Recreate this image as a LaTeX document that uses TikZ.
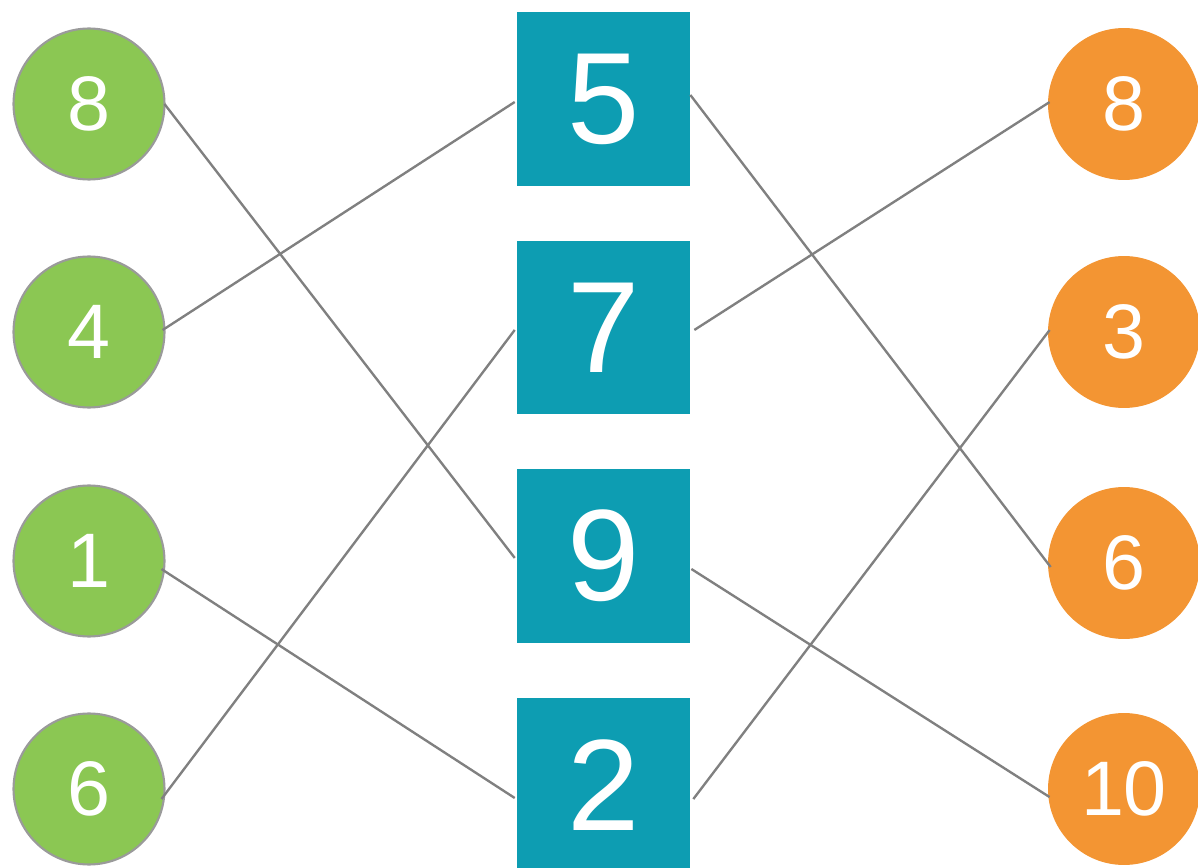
\documentclass[tikz,border=0pt]{standalone}
\usepackage{fontspec}
\setmainfont{Liberation Sans}
\definecolor{leafgreen}{HTML}{8BC753}
\definecolor{tealbox}{HTML}{0D9DB2}
\definecolor{orangeball}{HTML}{F39533}
\definecolor{wiregray}{HTML}{808080}
\definecolor{rimgray}{HTML}{9A9A9A}
\tikzset{
  leftnum/.style={circle, fill=leafgreen, draw=rimgray, line width=1.2pt, minimum size=3.02cm, inner sep=0pt, text=white, font=\fontsize{44}{44}\selectfont},
  rightnum/.style={circle, fill=orangeball, minimum size=3.04cm, inner sep=0pt, text=white, font=\fontsize{44}{44}\selectfont},
  midnum/.style={rectangle, fill=tealbox, minimum width=3.46cm, minimum height=3.48cm, inner sep=0pt, text=white, font=\fontsize{74}{74}\selectfont},
  wire/.style={draw=wiregray, line width=1.35pt}
}
\begin{document}
\begin{tikzpicture}[x=0.02cm, y=-0.02cm]
\useasboundingbox (0,0) rectangle (1198,868);
\clip (0,0) rectangle (1198,868);
% left column
\node[leftnum] (l1) at (89,104) {8};
\node[leftnum] (l2) at (89,332) {4};
\node[leftnum] (l3) at (89,561) {1};
\node[leftnum] (l4) at (89,789) {6};
% middle column
\node[midnum] (m1) at (603.5,99) {5};
\node[midnum] (m2) at (603.5,327.5) {7};
\node[midnum] (m3) at (603.5,556) {9};
\node[midnum] (m4) at (603.5,785) {2};
% right column
\node[rightnum] (r1) at (1124,104) {8};
\node[rightnum] (r2) at (1124,332) {3};
\node[rightnum] (r3) at (1124,563) {6};
\node[rightnum] (r4) at (1124,789) {10};
% links
\draw[wire] ([xshift=-0.6pt]l1.east) -- ([xshift=-1.1pt,yshift=-1.1pt]m3.west);
\draw[wire] ([xshift=-1.7pt,yshift=1.1pt]l2.east) -- ([xshift=-1.1pt,yshift=-1.7pt]m1.west);
\draw[wire] ([xshift=-2.3pt,yshift=-4.6pt]l3.east) -- ([xshift=-1.1pt,yshift=-7.4pt]m4.west);
\draw[wire] ([xshift=-2.3pt,yshift=-5.7pt]l4.east) -- ([xshift=-1.1pt,yshift=-1.4pt]m2.west);
\draw[wire] ([yshift=2.3pt]m1.east) -- ([xshift=1.7pt,yshift=-2.3pt]r3.west);
\draw[wire] ([xshift=2.3pt,yshift=-1.4pt]m2.east) -- ([xshift=1.1pt,yshift=1.1pt]r1.west);
\draw[wire] ([xshift=0.6pt,yshift=-7.4pt]m3.east) -- ([xshift=1.1pt,yshift=-4.6pt]r4.west);
\draw[wire] ([xshift=1.7pt,yshift=-8pt]m4.east) -- ([xshift=1.1pt,yshift=1.1pt]r2.west);
\end{tikzpicture}
\end{document}
